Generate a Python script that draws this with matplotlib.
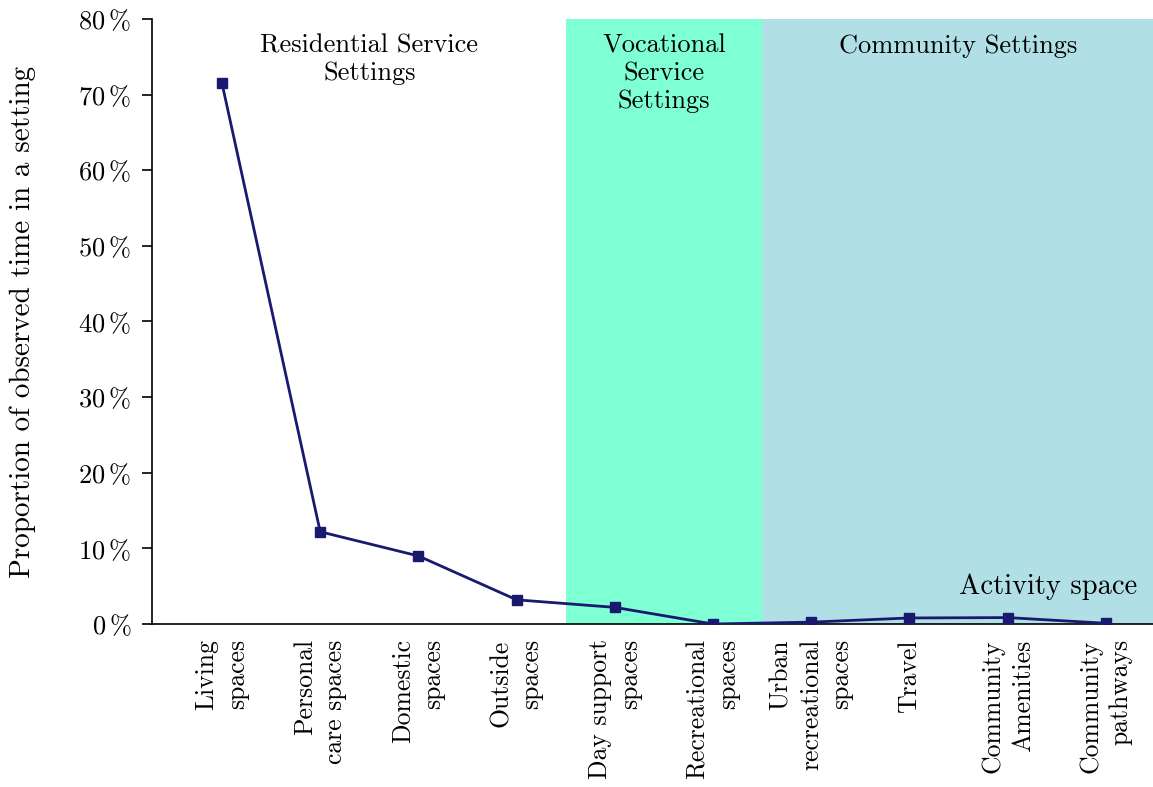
import matplotlib
matplotlib.use('Agg')
import matplotlib.pyplot as plt

plt.rcParams['font.family'] = 'cmr10'
plt.rcParams['mathtext.fontset'] = 'cm'
plt.rcParams['axes.unicode_minus'] = False

settings = ['Living\nspaces', 'Personal\ncare spaces', 'Domestic\nspaces', 'Outside\nspaces',
            'Day support\nspaces', 'Recreational\nspaces', 'Urban\nrecreational\nspaces',
            'Travel', 'Community\nAmenities', 'Community\npathways']
share = [71.5, 12.2, 9.0, 3.2, 2.2, 0.0, 0.25, 0.8, 0.85, 0.1]
yticks = [0, 10, 20, 30, 40, 50, 60, 70, 80]

fig = plt.figure(figsize=(11.53, 7.87), dpi=100)
ax = fig.add_axes([0.1318, 0.2071, 0.8682, 0.7688])

x = list(range(len(settings)))
ax.axvspan(3.5, 5.5, color='#7fffd4', lw=0, zorder=0)
ax.axvspan(5.5, 9.5, color='#b0e0e6', lw=0, zorder=0)

ax.plot(x, share, color='#191970', lw=2, marker='s', ms=7, zorder=3)

ax.set_xlim(-0.713, 9.48)
ax.set_ylim(0, 80)
ax.set_yticks(yticks)
ax.set_yticklabels([r'$%d\,\%%$' % v for v in yticks], fontsize=19)
ax.set_xticks(x)
ax.set_xticklabels(settings, rotation=90, ha='center', va='top', multialignment='right',
                   fontsize=18.5, linespacing=1.35)
ax.tick_params(axis='x', length=0, pad=11)
ax.tick_params(axis='y', direction='out', length=7, width=1.2, pad=8)

ax.spines['top'].set_visible(False)
ax.spines['right'].set_visible(False)
ax.spines['left'].set_linewidth(1.2)
ax.spines['bottom'].set_linewidth(1.2)

ax.set_ylabel('Proportion of observed time in a setting', fontsize=21)
ax.yaxis.set_label_coords(-0.116, 0.5)

ax.text(1.5, 78.0, 'Residential Service\nSettings', ha='center', va='top', fontsize=19, linespacing=1.2)
ax.text(4.5, 78.0, 'Vocational\nService\nSettings', ha='center', va='top', fontsize=19, linespacing=1.2)
ax.text(7.5, 78.0, 'Community Settings', ha='center', va='top', fontsize=19)
ax.text(9.32, 4.9, 'Activity space', ha='right', va='center', fontsize=20.5)

fig.savefig('out.png', dpi=100)
